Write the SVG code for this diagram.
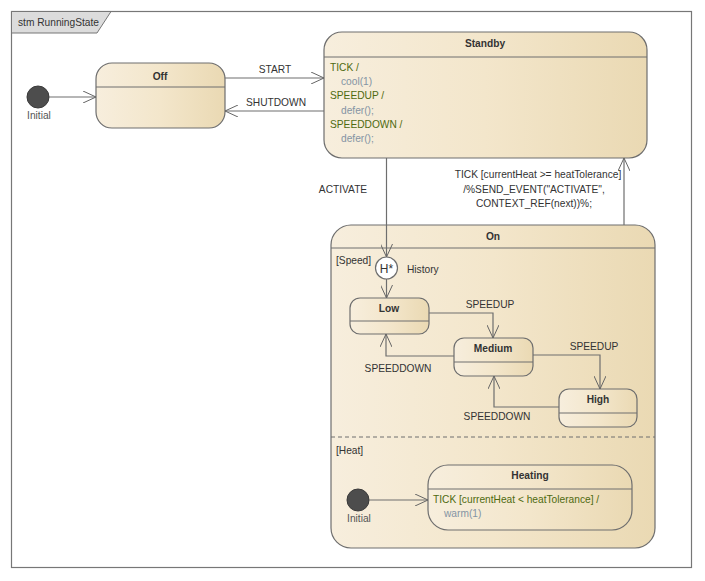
<svg xmlns="http://www.w3.org/2000/svg" width="705" height="581" viewBox="0 0 705 581">
<defs>
<linearGradient id="g" x1="0" y1="0" x2="1" y2="0">
<stop offset="0" stop-color="#f7eedd"/>
<stop offset="0.5" stop-color="#f3e6cb"/>
<stop offset="1" stop-color="#ead9b3"/>
</linearGradient>
<marker id="a" markerWidth="14" markerHeight="12" refX="13" refY="6" orient="auto" markerUnits="userSpaceOnUse">
<path d="M0,0 L13,6 L0,12" fill="none" stroke="#666" stroke-width="1"/>
</marker>
<style>
text{font-family:"Liberation Sans",Arial,sans-serif;font-size:10.2px;fill:#333}
.t{font-weight:bold;text-anchor:middle}
.ev{fill:#4f6a10}
.ac{fill:#8494a4}
.st{fill:url(#g);stroke:#6e6e6e;stroke-width:1.2}
.ln{stroke:#6e6e6e;stroke-width:1}
.c{fill:none;stroke:#6e6e6e;stroke-width:1.2;marker-end:url(#a)}
.ini{fill:#4d4d4d;stroke:#3a3a3a}
</style>
</defs>
<rect width="705" height="581" fill="#fff"/>
<g id="frame">
<rect x="11.5" y="11.5" width="680" height="556" fill="none" stroke="#777" stroke-width="1.2"/>
<path d="M11.5,11.5 H111 L97,33 H11.5 Z" fill="#dcdcdc" stroke="#777" stroke-width="1"/>
<text x="18" y="26">stm RunningState</text>
</g>
<g id="initial1">
<circle cx="38" cy="97" r="11" class="ini"/>
<text x="39" y="119" text-anchor="middle" style="fill:#555">Initial</text>
</g>
<g id="off">
<rect x="96" y="63" width="129" height="65" rx="16" class="st"/>
<line x1="96" y1="87" x2="225" y2="87" class="ln"/>
<text x="160" y="80" class="t">Off</text>
</g>
<g id="standby">
<rect x="324" y="32" width="323" height="126" rx="18" class="st"/>
<line x1="324" y1="57" x2="647" y2="57" class="ln"/>
<text x="485" y="47" class="t">Standby</text>
<text x="330" y="71" class="ev">TICK /</text>
<text x="341" y="85" class="ac">cool(1)</text>
<text x="330" y="99" class="ev">SPEEDUP /</text>
<text x="341" y="114" class="ac">defer();</text>
<text x="330" y="128" class="ev">SPEEDDOWN /</text>
<text x="341" y="142" class="ac">defer();</text>
</g>
<g id="on">
<rect x="331" y="225" width="324" height="323" rx="20" class="st"/>
<line x1="331" y1="248" x2="655" y2="248" class="ln"/>
<line x1="331" y1="437" x2="655" y2="437" stroke="#6e6e6e" stroke-width="1" stroke-dasharray="4,3"/>
<text x="493" y="240" class="t">On</text>
<text x="336" y="264">[Speed]</text>
<text x="336" y="454">[Heat]</text>
</g>
<g id="history">
<circle cx="386.5" cy="268" r="11" fill="#fff" stroke="#6e6e6e" stroke-width="1.2"/>
<text x="386.5" y="272.5" text-anchor="middle" style="font-size:12px">H*</text>
<text x="407" y="273">History</text>
</g>
<g id="low">
<rect x="350" y="298" width="79" height="36" rx="10" class="st"/>
<line x1="350" y1="321" x2="429" y2="321" class="ln"/>
<text x="389" y="312" class="t">Low</text>
</g>
<g id="medium">
<rect x="454" y="338" width="79" height="38" rx="10" class="st"/>
<line x1="454" y1="362" x2="533" y2="362" class="ln"/>
<text x="493" y="352" class="t">Medium</text>
</g>
<g id="high">
<rect x="559" y="389" width="78" height="38" rx="10" class="st"/>
<line x1="559" y1="413" x2="637" y2="413" class="ln"/>
<text x="598" y="403" class="t">High</text>
</g>
<g id="initial2">
<circle cx="358" cy="500" r="11" class="ini"/>
<text x="359" y="522" text-anchor="middle" style="fill:#555">Initial</text>
</g>
<g id="heating">
<rect x="428" y="465" width="204" height="65" rx="20" class="st"/>
<line x1="428" y1="489" x2="632" y2="489" class="ln"/>
<text x="530" y="479" class="t">Heating</text>
<text x="433" y="503" class="ev">TICK [currentHeat &lt; heatTolerance] /</text>
<text x="444" y="517" class="ac">warm(1)</text>
</g>
<g id="connectors">
<path d="M49,97 H96" class="c"/>
<path d="M225,78 H324" class="c"/>
<text x="275" y="73" text-anchor="middle">START</text>
<path d="M324,111 H225" class="c"/>
<text x="276" y="106" text-anchor="middle">SHUTDOWN</text>
<path d="M386.5,158 V257" class="c"/>
<text x="343" y="193" text-anchor="middle">ACTIVATE</text>
<path d="M624,225 V158" class="c"/>
<text x="538" y="178" text-anchor="middle">TICK [currentHeat &gt;= heatTolerance]</text>
<text x="534" y="193" text-anchor="middle">/%SEND_EVENT("ACTIVATE",</text>
<text x="534" y="207" text-anchor="middle">CONTEXT_REF(next))%;</text>
<path d="M386.5,279 V298" class="c"/>
<path d="M429,313 H493 V338" class="c"/>
<text x="490" y="308" text-anchor="middle">SPEEDUP</text>
<path d="M454,356 H386 V334" class="c"/>
<text x="398" y="372" text-anchor="middle">SPEEDDOWN</text>
<path d="M533,355 H600 V389" class="c"/>
<text x="594" y="350" text-anchor="middle">SPEEDUP</text>
<path d="M559,407 H494 V376" class="c"/>
<text x="497" y="420" text-anchor="middle">SPEEDDOWN</text>
<path d="M369,500 H428" class="c"/>
</g>
</svg>
